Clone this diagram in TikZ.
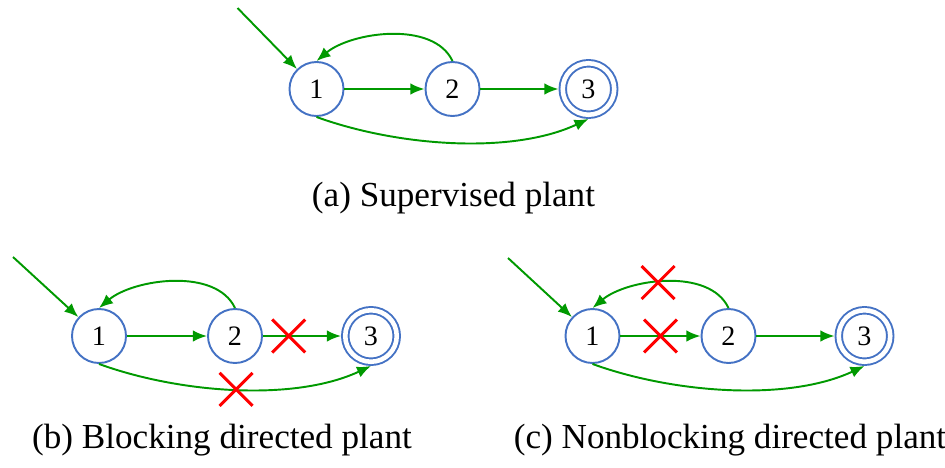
\documentclass[tikz,border=0pt]{standalone}
\usepackage{fontspec}
\setmainfont{Liberation Serif}
\usetikzlibrary{arrows.meta,positioning,shapes.misc}

\definecolor{stateblue}{RGB}{68,114,196}
\definecolor{transgreen}{RGB}{0,153,0}

\tikzset{
	plantstate/.style={circle,draw=stateblue,line width=1.1pt,minimum size=1.08cm,
		inner sep=0pt,font=\fontsize{16}{19}\selectfont},
	markedstate/.style={plantstate,double,double distance=2.6pt,minimum size=1.03cm,
		outer sep=2.4pt},
	trans/.style={draw=transgreen,line width=1.1pt,-{Latex[length=8pt,width=6.5pt]}},
	xmark/.style={cross out,draw=red,line width=1.7pt,minimum size=0.6cm,inner sep=0pt},
	caption/.style={font=\fontsize{20}{24}\selectfont}
}

\begin{document}
\begin{tikzpicture}[node distance=2.72cm,on grid]
	\path[use as bounding box] (0,0) rectangle (18.9,9.34);

	% (a)
	\node [plantstate] (a1) at (6.33,7.56) {1};
	\node [plantstate,right=of a1] (a2) {2};
	\node [markedstate,right=of a2] (a3) {3};
	\coordinate [above left=1.62cm and 1.58cm of a1] (a0);
	\draw [trans] (a0) -- (a1);
	\draw [trans] (a1) -- (a2);
	\draw [trans] (a2) -- (a3);
	\draw [trans] (a2.north) to [out=115,in=40,looseness=0.85] (a1.north);
	\draw [trans] (a1.south) to [out=-20,in=205,looseness=0.8] (a3.south);
	\node [caption] (capa) at (9.07,5.38) {(a) Supervised plant};

	% (b)
	\node [plantstate] (b1) at (1.98,2.62) {1};
	\node [plantstate,right=of b1] (b2) {2};
	\node [markedstate,right=of b2] (b3) {3};
	\coordinate [above left=1.58cm and 1.72cm of b1] (b0);
	\draw [trans] (b0) -- (b1);
	\draw [trans] (b1) -- (b2);
	\draw [trans] (b2) -- node [xmark,pos=0.33] (xb1) {} (b3);
	\draw [trans] (b2.north) to [out=115,in=40,looseness=0.85] (b1.north);
	\draw [trans] (b1.south) to [out=-20,in=205,looseness=0.8]
		node [xmark,midway] (xb2) {} (b3.south);
	\node [caption] (capb) at (4.44,0.54) {(b) Blocking directed plant};

	% (c)
	\node [plantstate] (c1) at (11.85,2.62) {1};
	\node [plantstate,right=of c1] (c2) {2};
	\node [markedstate,right=of c2] (c3) {3};
	\coordinate [above left=1.56cm and 1.69cm of c1] (c0);
	\draw [trans] (c0) -- (c1);
	\draw [trans] (c1) -- node [xmark,midway] (xc1) {} (c2);
	\draw [trans] (c2) -- (c3);
	\draw [trans] (c2.north) to [out=115,in=40,looseness=0.85]
		node [xmark,pos=0.55] (xc2) {} (c1.north);
	\draw [trans] (c1.south) to [out=-20,in=205,looseness=0.8] (c3.south);
	\node [caption] (capc) at (14.6,0.54) {(c) Nonblocking directed plant};
\end{tikzpicture}
\end{document}
